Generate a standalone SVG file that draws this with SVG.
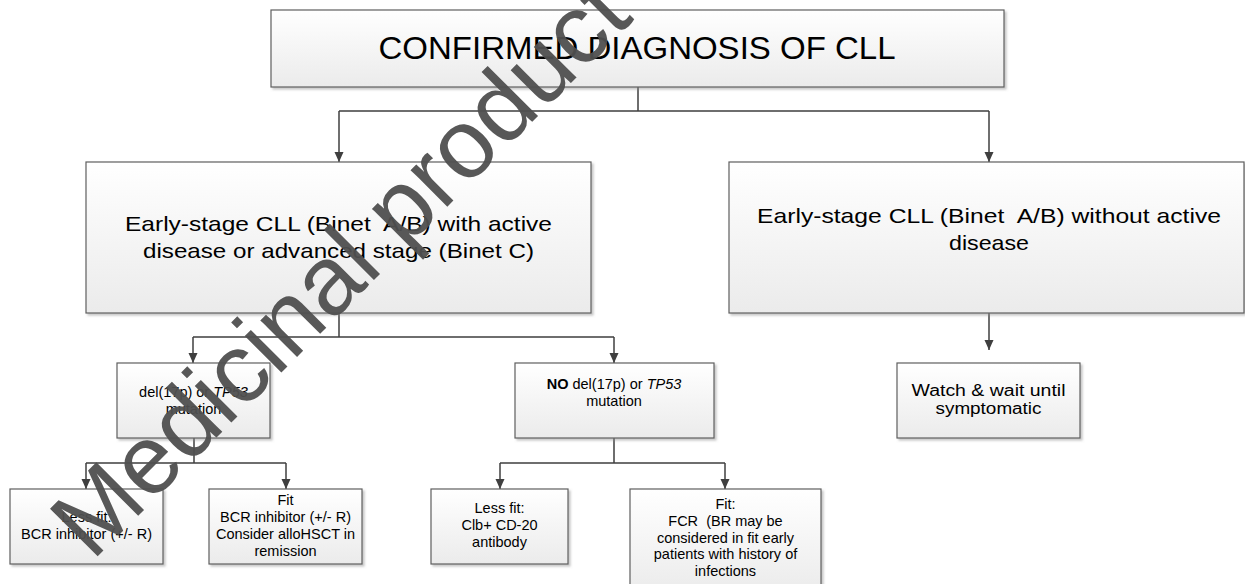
<svg xmlns="http://www.w3.org/2000/svg" width="1245" height="584" viewBox="0 0 1245 584">
<defs>
<linearGradient id="boxfill" x1="0" y1="0" x2="0" y2="1">
<stop offset="0" stop-color="#ffffff"/>
<stop offset="1" stop-color="#ebebeb"/>
</linearGradient>
<filter id="shadow" x="-5%" y="-5%" width="115%" height="120%">
<feDropShadow dx="2" dy="2" stdDeviation="1" flood-color="#8c8c8c" flood-opacity="0.5"/>
</filter>
<marker id="arrow" markerUnits="userSpaceOnUse" markerWidth="10" markerHeight="10" refX="10" refY="5" orient="auto">
<path d="M0,0.5 L10,5 L0,9.5 z" fill="#3f3f3f"/>
</marker>
</defs>
<style>
.box{fill:url(#boxfill);stroke:#5f5f5f;stroke-width:1.2;filter:url(#shadow)}
.conn{fill:none;stroke:#3f3f3f;stroke-width:1.5}
.arr{marker-end:url(#arrow)}
text{font-family:"Liberation Sans",Arial,sans-serif;fill:#000;text-anchor:middle;white-space:pre}
.title{font-size:31px}
.big{font-size:21px}
.small{font-size:14.5px}
.mid{font-size:16px}
.wm{font-size:98px;fill:#505050;text-anchor:start;opacity:0.95}
</style>
<rect width="1245" height="584" fill="#ffffff"/>

<g id="connectors">
<path class="conn" d="M638,87 V111 M339,111 H989"/>
<path class="conn arr" d="M339,111 V162"/>
<path class="conn arr" d="M989,111 V162"/>
<path class="conn" d="M339,313 V337 M193,337 H614"/>
<path class="conn arr" d="M193,337 V363"/>
<path class="conn arr" d="M614,337 V363"/>
<path class="conn arr" d="M989,313 V350"/>
<path class="conn" d="M194,438 V463 M86,463 H286"/>
<path class="conn arr" d="M86,463 V489"/>
<path class="conn arr" d="M286,463 V489"/>
<path class="conn" d="M614,438 V463 M500,463 H725"/>
<path class="conn arr" d="M500,463 V489"/>
<path class="conn arr" d="M725,463 V489"/>
</g>

<g id="node-title">
<rect class="box" x="271" y="10" width="733" height="77"/>
<text class="title" x="637" y="59" textLength="517" lengthAdjust="spacingAndGlyphs">CONFIRMED DIAGNOSIS OF CLL</text>
</g>

<g id="node-active">
<rect class="box" x="86" y="162" width="505" height="151"/>
<text class="big" x="338.5" y="231" textLength="427" lengthAdjust="spacingAndGlyphs">Early-stage CLL (Binet  A/B) with active</text>
<text class="big" x="338.5" y="258" textLength="391" lengthAdjust="spacingAndGlyphs">disease or advanced stage (Binet C)</text>
</g>

<g id="node-inactive">
<rect class="box" x="729" y="162" width="515" height="151"/>
<text class="big" x="989" y="223" textLength="464" lengthAdjust="spacingAndGlyphs">Early-stage CLL (Binet  A/B) without active</text>
<text class="big" x="989" y="250" textLength="80" lengthAdjust="spacingAndGlyphs">disease</text>
</g>

<g id="node-del17p">
<rect class="box" x="117" y="363" width="153" height="75"/>
<text class="small" x="193.5" y="397">del(17p) or <tspan font-style="italic">TP53</tspan></text>
<text class="small" x="193.5" y="414">mutation</text>
</g>

<g id="node-nodel17p">
<rect class="box" x="515" y="363" width="199" height="75"/>
<text class="small" x="614" y="389"><tspan font-weight="bold">NO</tspan> del(17p) or <tspan font-style="italic">TP53</tspan></text>
<text class="small" x="614" y="406">mutation</text>
</g>

<g id="node-watch">
<rect class="box" x="897" y="363" width="183" height="75"/>
<text class="mid" x="988.5" y="396" textLength="154" lengthAdjust="spacingAndGlyphs">Watch &amp; wait until</text>
<text class="mid" x="988.5" y="414" textLength="106" lengthAdjust="spacingAndGlyphs">symptomatic</text>
</g>

<g id="node-lessfit1">
<rect class="box" x="10" y="489" width="153" height="75"/>
<text class="small" x="86.5" y="522">Less fit:</text>
<text class="small" x="86.5" y="539">BCR inhibitor (+/- R)</text>
</g>

<g id="node-fit1">
<rect class="box" x="209" y="489" width="153" height="75"/>
<text class="small" x="285.5" y="505">Fit</text>
<text class="small" x="285.5" y="522">BCR inhibitor (+/- R)</text>
<text class="small" x="285.5" y="539">Consider alloHSCT in</text>
<text class="small" x="285.5" y="556">remission</text>
</g>

<g id="node-lessfit2">
<rect class="box" x="431" y="489" width="137" height="75"/>
<text class="small" x="499.5" y="513">Less fit:</text>
<text class="small" x="499.5" y="530">Clb+ CD-20</text>
<text class="small" x="499.5" y="547">antibody</text>
</g>

<g id="node-fit2">
<rect class="box" x="630" y="489" width="191" height="105"/>
<text class="small" x="725.5" y="509">Fit:</text>
<text class="small" x="725.5" y="525.75">FCR  (BR may be</text>
<text class="small" x="725.5" y="542.5">considered in fit early</text>
<text class="small" x="725.5" y="559.25">patients with history of</text>
<text class="small" x="725.5" y="576">infections</text>
</g>

<text class="wm" transform="translate(92,562) rotate(-45)">Medicinal product no longer authorised</text>
</svg>
